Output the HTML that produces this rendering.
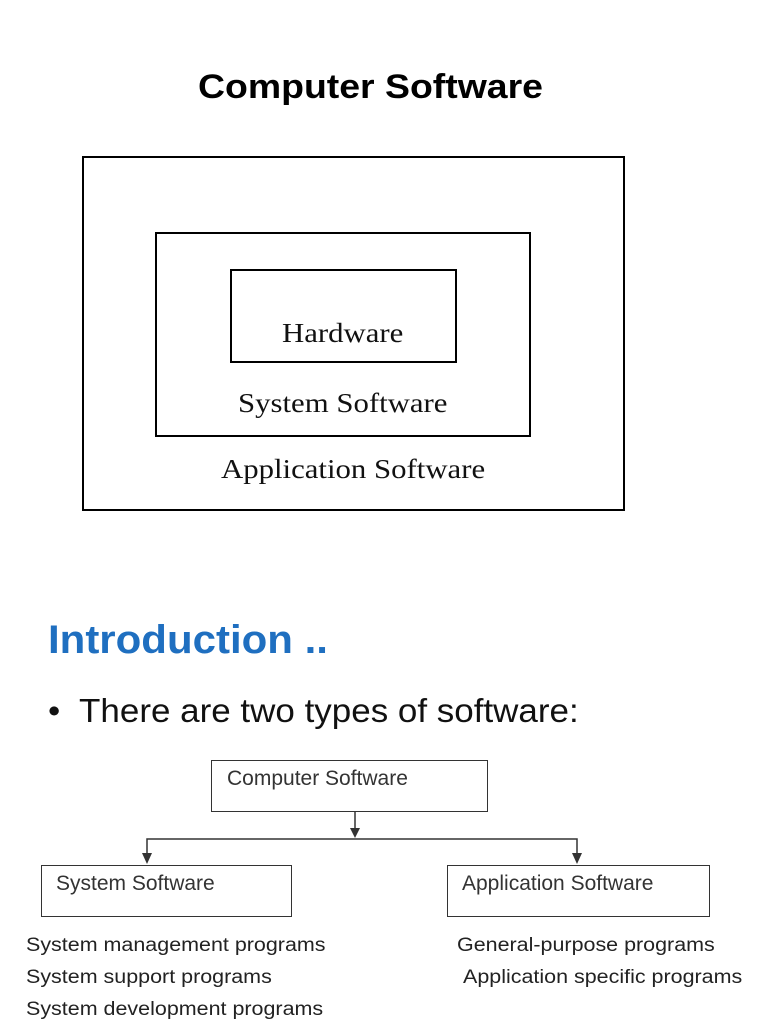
<!DOCTYPE html>
<html><head><style>
body{margin:0;width:768px;height:1024px;background:#fff;position:relative;overflow:hidden;font-family:"Liberation Sans",sans-serif}
.a{position:absolute;white-space:nowrap;transform-origin:left top}
.b{position:absolute;border:2px solid #000;box-sizing:border-box}
.g{position:absolute;border:1.5px solid #333;box-sizing:border-box}
.s{font-family:"Liberation Serif",serif;font-size:27px;color:#111;transform:scaleX(1.14)}
.h{font-size:21px;color:#333}
.l{font-size:19px;color:#222;transform:scaleX(1.13)}
</style></head><body>
<div class="a" style="left:198px;top:68px;font-size:34px;font-weight:bold;transform:scaleX(1.1)">Computer Software</div>
<div class="b" style="left:82px;top:156px;width:543px;height:355px"></div>
<div class="b" style="left:155px;top:232px;width:376px;height:205px"></div>
<div class="b" style="left:230px;top:269px;width:227px;height:94px"></div>
<div class="a s" style="left:282px;top:318px">Hardware</div>
<div class="a s" style="left:238px;top:388px">System Software</div>
<div class="a s" style="left:221px;top:454px">Application Software</div>
<div class="a" style="left:48px;top:618px;font-size:40px;font-weight:bold;color:#1f6fc0;transform:scaleX(1.05)">Introduction ..</div>
<div class="a" style="left:48px;top:692px;font-size:33px;color:#111;transform:scaleX(1.06)">•&nbsp; There are two types of software:</div>
<div class="g" style="left:211px;top:760px;width:277px;height:52px"></div>
<div class="a h" style="left:227px;top:767px">Computer Software</div>
<svg class="a" style="left:0;top:0" width="768" height="1024">
<g stroke="#333" stroke-width="1.5" fill="none"><line x1="355" y1="812" x2="355" y2="830"/><polyline points="147,855 147,839 577,839 577,855"/></g>
<g fill="#333"><polygon points="350,828 360,828 355,838"/><polygon points="142,853 152,853 147,864"/><polygon points="572,853 582,853 577,864"/></g>
</svg>
<div class="g" style="left:41px;top:865px;width:251px;height:52px"></div>
<div class="a h" style="left:56px;top:872px">System Software</div>
<div class="g" style="left:447px;top:865px;width:263px;height:52px"></div>
<div class="a h" style="left:462px;top:872px">Application Software</div>
<div class="a l" style="left:26px;top:935px">System management programs</div>
<div class="a l" style="left:26px;top:967px">System support programs</div>
<div class="a l" style="left:26px;top:999px">System development programs</div>
<div class="a l" style="left:457px;top:935px">General-purpose programs</div>
<div class="a l" style="left:463px;top:967px">Application specific programs</div>
</body></html>
